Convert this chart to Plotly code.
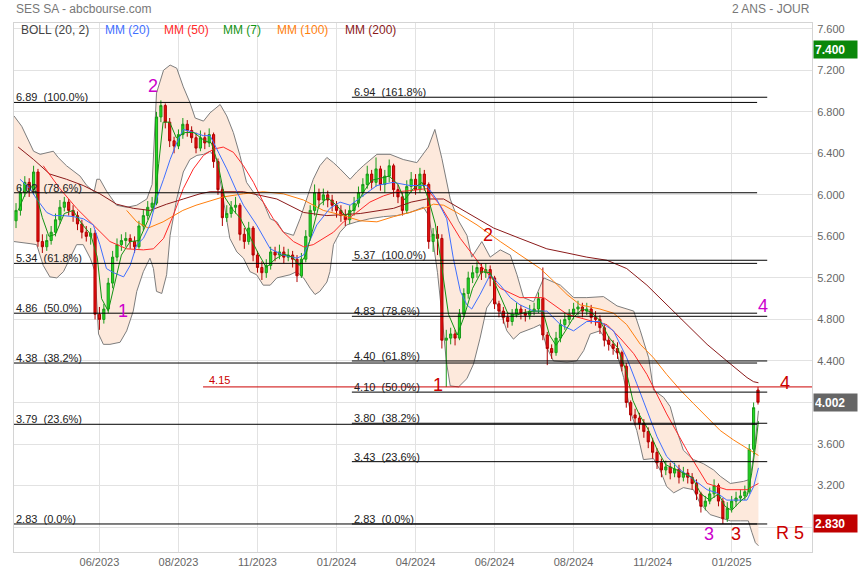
import plotly.graph_objects as go

FONT = "Liberation Sans, Arial, sans-serif"

# ---------------- data ----------------
tick_idx = [19, 37, 55, 73, 91, 109, 127, 145, 163]
tick_labels = ["06/2023", "08/2023", "11/2023", "01/2024", "04/2024",
               "06/2024", "08/2024", "11/2024", "01/2025"]
y_ticks = [2.8, 3.2, 3.6, 4.0, 4.4, 4.8, 5.2, 5.6, 6.0, 6.4, 6.8, 7.2, 7.6]
# 2.800 and 4.000 are hidden behind the price tags in the reference
y_tick_labels = ["", "3.200", "3.600", "", "4.400", "4.800", "5.200", "5.600",
                 "6.000", "6.400", "6.800", "7.200", "7.600"]

open_ = [5.75, 5.85, 6.02, 6.12, 6.05, 6.22, 5.55, 5.50, 5.56, 5.64,
         5.76, 5.88, 5.93, 5.85, 5.80, 5.72, 5.64, 5.60, 5.63, 4.85,
         4.80, 4.90, 5.15, 5.40, 5.52, 5.56, 5.58, 5.55, 5.50, 5.70,
         5.80, 5.88, 5.92, 6.75, 6.86, 6.70, 6.52, 6.47, 6.58, 6.68,
         6.62, 6.55, 6.45, 6.55, 6.50, 6.58, 6.32, 6.05, 5.78, 5.82,
         5.88, 5.90, 5.62, 5.55, 5.68, 5.42, 5.30, 5.25, 5.32, 5.45,
         5.42, 5.45, 5.40, 5.42, 5.38, 5.22, 5.38, 5.60, 5.85, 6.02,
         5.95, 6.00, 5.95, 5.90, 5.85, 5.80, 5.76, 5.85, 5.92, 6.02,
         6.10, 6.20, 6.12, 6.25, 6.10, 6.18, 6.28, 6.05, 5.98, 5.85,
         6.08, 6.15, 6.05, 6.20, 6.10, 5.55, 5.62, 5.58, 4.60, 4.62,
         4.66, 4.62, 4.85, 5.05, 5.20, 5.25, 5.30, 5.25, 5.28, 5.20,
         4.95, 4.88, 4.82, 4.78, 4.85, 4.90, 4.86, 4.84, 4.88, 4.90,
         5.00, 4.65, 4.52, 4.48, 4.62, 4.75, 4.80, 4.85, 4.90, 4.92,
         4.88, 4.90, 4.82, 4.80, 4.72, 4.60, 4.56, 4.52, 4.48, 4.35,
         4.00, 3.88, 3.85, 3.80, 3.72, 3.62, 3.52, 3.42, 3.35, 3.38,
         3.32, 3.36, 3.28, 3.32, 3.28, 3.22, 3.12, 3.00, 3.05, 3.12,
         3.20, 3.05, 2.88, 2.98, 3.05, 3.08, 3.10, 3.14, 3.55, 4.12]

close = [5.85, 6.02, 6.12, 6.05, 6.22, 5.55, 5.50, 5.56, 5.64, 5.76,
         5.88, 5.93, 5.85, 5.80, 5.72, 5.64, 5.60, 5.63, 4.85, 4.80,
         4.90, 5.15, 5.40, 5.52, 5.56, 5.58, 5.55, 5.50, 5.70, 5.80,
         5.88, 5.92, 6.75, 6.86, 6.70, 6.52, 6.47, 6.58, 6.68, 6.62,
         6.55, 6.45, 6.55, 6.50, 6.58, 6.32, 6.05, 5.78, 5.82, 5.88,
         5.90, 5.62, 5.55, 5.68, 5.42, 5.30, 5.25, 5.32, 5.45, 5.42,
         5.45, 5.40, 5.42, 5.38, 5.22, 5.38, 5.60, 5.85, 6.02, 5.95,
         6.00, 5.95, 5.90, 5.85, 5.80, 5.76, 5.85, 5.92, 6.02, 6.10,
         6.20, 6.12, 6.25, 6.10, 6.18, 6.28, 6.05, 5.98, 5.85, 6.08,
         6.15, 6.05, 6.20, 6.10, 5.55, 5.62, 5.58, 4.60, 4.62, 4.66,
         4.62, 4.85, 5.05, 5.20, 5.25, 5.30, 5.25, 5.28, 5.20, 4.95,
         4.88, 4.82, 4.78, 4.85, 4.90, 4.86, 4.84, 4.88, 4.90, 5.00,
         4.65, 4.52, 4.48, 4.62, 4.75, 4.80, 4.85, 4.90, 4.92, 4.88,
         4.90, 4.82, 4.80, 4.72, 4.60, 4.56, 4.52, 4.48, 4.35, 4.00,
         3.88, 3.85, 3.80, 3.72, 3.62, 3.52, 3.42, 3.35, 3.38, 3.32,
         3.36, 3.28, 3.32, 3.28, 3.22, 3.12, 3.00, 3.05, 3.12, 3.20,
         3.05, 2.88, 2.98, 3.05, 3.08, 3.10, 3.14, 3.55, 3.95, 4.002]

high = [5.92, 6.08, 6.18, 6.16, 6.28, 6.25, 5.62, 5.62, 5.70, 5.82,
        5.95, 5.98, 5.96, 5.90, 5.84, 5.76, 5.70, 5.68, 5.66, 4.92,
        4.95, 5.20, 5.46, 5.58, 5.62, 5.64, 5.62, 5.60, 5.75, 5.86,
        5.94, 5.98, 6.80, 6.91, 6.88, 6.74, 6.56, 6.63, 6.74, 6.72,
        6.66, 6.60, 6.62, 6.60, 6.64, 6.60, 6.35, 6.08, 5.90, 5.94,
        5.98, 5.92, 5.68, 5.74, 5.70, 5.46, 5.36, 5.38, 5.50, 5.50,
        5.52, 5.50, 5.48, 5.46, 5.42, 5.44, 5.66, 5.90, 6.10, 6.06,
        6.06, 6.04, 6.00, 5.94, 5.90, 5.86, 5.90, 5.98, 6.08, 6.16,
        6.28, 6.24, 6.36, 6.28, 6.24, 6.34, 6.30, 6.10, 6.02, 6.14,
        6.22, 6.20, 6.26, 6.24, 6.12, 5.68, 5.70, 5.62, 4.70, 4.72,
        4.70, 4.90, 5.10, 5.26, 5.32, 5.36, 5.34, 5.34, 5.32, 5.22,
        4.98, 4.92, 4.86, 4.90, 4.96, 4.94, 4.90, 4.94, 4.96, 5.06,
        5.30, 4.68, 4.56, 4.68, 4.80, 4.86, 4.90, 4.96, 4.98, 4.96,
        4.96, 4.94, 4.88, 4.84, 4.76, 4.64, 4.60, 4.58, 4.50, 4.38,
        4.02, 3.94, 3.90, 3.84, 3.76, 3.66, 3.56, 3.46, 3.44, 3.42,
        3.42, 3.40, 3.38, 3.36, 3.32, 3.26, 3.14, 3.10, 3.18, 3.26,
        3.22, 3.08, 3.04, 3.10, 3.14, 3.16, 3.20, 3.60, 4.00, 4.15]

low = [5.68, 5.80, 5.98, 5.98, 6.00, 5.50, 5.44, 5.46, 5.52, 5.60,
       5.72, 5.84, 5.80, 5.74, 5.66, 5.58, 5.55, 5.52, 4.80, 4.70,
       4.76, 4.86, 5.10, 5.36, 5.46, 5.50, 5.48, 5.44, 5.48, 5.66,
       5.76, 5.84, 5.90, 6.70, 6.64, 6.46, 6.40, 6.44, 6.54, 6.56,
       6.50, 6.40, 6.42, 6.44, 6.46, 6.26, 6.00, 5.70, 5.74, 5.78,
       5.82, 5.56, 5.48, 5.52, 5.36, 5.25, 5.18, 5.20, 5.28, 5.36,
       5.38, 5.34, 5.36, 5.30, 5.16, 5.20, 5.35, 5.56, 5.80, 5.88,
       5.90, 5.88, 5.84, 5.78, 5.74, 5.70, 5.72, 5.80, 5.88, 5.98,
       6.06, 6.06, 6.08, 6.04, 6.02, 6.12, 5.98, 5.92, 5.80, 5.82,
       6.02, 6.00, 6.02, 6.04, 5.48, 5.45, 5.42, 4.52, 4.15, 4.56,
       4.55, 4.60, 4.82, 5.00, 5.15, 5.20, 5.18, 5.20, 5.12, 4.90,
       4.82, 4.76, 4.72, 4.74, 4.82, 4.80, 4.78, 4.80, 4.84, 4.86,
       4.60, 4.36, 4.42, 4.45, 4.58, 4.70, 4.76, 4.80, 4.84, 4.82,
       4.84, 4.76, 4.74, 4.66, 4.54, 4.50, 4.46, 4.42, 4.30, 3.95,
       3.82, 3.78, 3.74, 3.66, 3.56, 3.46, 3.36, 3.28, 3.30, 3.26,
       3.28, 3.22, 3.24, 3.22, 3.16, 3.06, 2.94, 2.96, 3.02, 3.08,
       3.00, 2.83, 2.85, 2.94, 3.00, 3.04, 3.06, 3.12, 3.50, 3.98]

# Bollinger (20, 2) envelope, read at sample points
bb_up_idx = [-0.46, 1.3, 4.0, 5.5, 8.5, 9.6, 11.5, 14.6, 16.1, 17.8, 18.4, 19.1, 20.7, 22.9,
             25.2, 27.5, 29.8, 31.0, 32.0, 33.6, 35.1, 36.6, 38.1, 39.6, 40.8, 42.7, 44.2,
             46.5, 48.0, 49.5, 51.0, 52.5, 54.0, 56.3, 57.9, 59.4, 60.9, 63.2, 64.7, 66.2,
             67.7, 69.2, 70.8, 72.3, 73.8, 76.1, 77.6, 79.1, 82.2, 85.2, 88.2, 91.3, 93.9,
             95.4, 97.0, 98.9, 100.8, 102.7, 103.8, 106.1, 108.0, 110.3, 112.6, 114.1,
             115.6, 117.9, 120.2, 124.0, 127.0, 130.0, 133.8, 136.9, 140.7, 142.2, 144.1,
             145.2, 147.5, 149.0, 150.5, 152.0, 154.3, 156.6, 158.9, 160.4, 162.7, 165.7,
             167.2, 168.2, 169.1]
bb_up = [6.76, 6.66, 6.42, 6.39, 6.42, 6.36, 6.28, 6.18, 6.09, 6.03, 6.15, 6.15, 6.03, 5.90,
         5.88, 5.90, 5.96, 6.10, 6.98, 7.20, 7.25, 7.22, 7.04, 6.89, 6.74, 6.71, 6.79,
         6.87, 6.76, 6.60, 6.38, 6.12, 6.03, 5.93, 5.77, 5.74, 5.64, 5.61, 5.77, 5.96,
         6.15, 6.28, 6.36, 6.31, 6.25, 6.15, 6.22, 6.28, 6.39, 6.39, 6.34, 6.31, 6.46,
         6.63, 6.35, 5.96, 5.75, 5.61, 5.40, 5.55, 5.40, 5.47, 5.42, 5.23,
         5.01, 4.97, 5.20, 5.13, 5.01, 5.01, 5.02, 4.93, 4.88, 4.69, 4.43,
         4.12, 4.05, 3.96, 3.73, 3.54, 3.45, 3.41, 3.35, 3.29, 3.22, 3.24,
         3.26, 3.55, 3.92]
bb_lo_idx = [-0.46, 3.2, 4.7, 6.2, 7.7, 9.3, 10.8, 12.3, 13.8, 15.3, 16.9, 18.0, 18.8, 19.9,
             21.4, 23.7, 25.2, 26.7, 27.5, 29.0, 30.5, 31.3, 32.0, 33.2, 34.3, 35.1, 36.6,
             38.1, 39.6, 41.2, 42.7, 44.2, 45.7, 47.2, 48.7, 50.3, 51.8, 53.3, 54.8, 56.3,
             57.9, 59.4, 62.4, 63.9, 65.5, 67.0, 68.1, 69.2, 70.8, 71.5, 72.3, 73.8, 75.3,
             77.6, 80.6, 83.7, 86.7, 89.7, 92.8, 94.0, 95.0, 96.0, 97.0, 98.0, 98.9, 100.8,
             102.7, 104.2, 105.7, 107.2, 108.8, 110.3, 111.8, 113.3, 114.8, 117.9, 119.4,
             120.9, 122.4, 125.5, 127.7, 129.3, 130.8, 133.0, 134.6, 136.9, 138.4, 139.9,
             141.4, 142.9, 145.2, 146.7, 148.2, 149.8, 152.0, 154.3, 155.8, 158.1, 160.4,
             162.7, 165.0, 166.8, 167.6, 168.4, 169.1]
bb_lo = [5.55, 5.53, 5.52, 5.32, 5.21, 5.20, 5.26, 5.39, 5.52, 5.52, 5.39, 5.26, 4.66, 4.56,
         4.56, 4.58, 4.69, 4.88, 5.07, 5.26, 5.39, 5.29, 5.07, 5.05, 5.23, 5.61, 5.96,
         6.22, 6.34, 6.38, 6.39, 6.42, 6.34, 5.96, 5.58, 5.45, 5.39, 5.26, 5.23, 5.13,
         5.13, 5.20, 5.23, 5.26, 5.20, 5.10, 5.04, 5.07, 5.16, 5.26, 5.52, 5.64, 5.71,
         5.74, 5.77, 5.79, 5.80, 5.83, 5.88, 5.80, 5.55, 5.25, 4.85, 4.40, 4.16, 4.15,
         4.23, 4.37, 4.62, 4.91, 5.01, 4.88, 4.69, 4.61, 4.67, 4.72, 4.75,
         4.53, 4.40, 4.39, 4.40, 4.50, 4.66, 4.69, 4.59, 4.47, 4.24, 3.92,
         3.73, 3.45, 3.46, 3.35, 3.19, 3.13, 3.18, 3.16, 3.03, 2.92, 2.89,
         2.86, 2.86, 2.86, 2.75, 2.65, 2.62]

ma7_idx = [0.5, 2, 4, 5, 6, 7.5, 9, 11, 13, 15, 17, 18.5, 19.5, 21, 22.5, 24, 26, 28, 30,
           31.5, 32.5, 33.5, 35, 36.5, 38.5, 40.5, 43, 44.5, 46, 47.5, 49.5, 51, 53, 55,
           57, 59, 61, 63, 64.5, 66, 67.5, 69, 71, 73, 75, 77, 79, 81, 83, 85, 87, 88.5,
           90.5, 92.5, 94, 95.5, 97, 98.5, 100.5, 102, 104, 106, 108, 110, 112, 114, 116,
           118, 120, 121.5, 123, 125, 127, 129, 131, 133, 135, 137, 139, 140.5, 142, 144,
           146, 148, 150, 152, 154, 156, 158, 160, 161.5, 163, 165, 166.5, 167.5, 168.5,
           169.1]
ma7 = [5.85, 6.00, 6.10, 5.95, 5.78, 5.60, 5.62, 5.82, 5.85, 5.72, 5.62, 5.40, 5.00, 4.88,
       5.15, 5.42, 5.55, 5.56, 5.75, 5.90, 6.30, 6.70, 6.70, 6.55, 6.60, 6.60, 6.52, 6.50,
       6.30, 5.98, 5.85, 5.78, 5.62, 5.45, 5.30, 5.38, 5.43, 5.40, 5.32, 5.42, 5.65, 5.90,
       5.97, 5.90, 5.80, 5.86, 6.02, 6.14, 6.16, 6.18, 6.10, 5.95, 6.06, 6.12, 5.95, 5.72,
       5.30, 4.85, 4.65, 4.82, 5.10, 5.26, 5.25, 5.05, 4.86, 4.84, 4.87, 4.88, 4.88, 4.65,
       4.55, 4.68, 4.82, 4.90, 4.87, 4.79, 4.63, 4.53, 4.30, 4.02, 3.88, 3.74, 3.55, 3.40,
       3.36, 3.32, 3.28, 3.12, 3.06, 3.12, 3.00, 2.96, 3.05, 3.10, 3.30, 3.60, 3.82]

ma20_idx = [0.9, 3.2, 4.7, 7.0, 8.5, 10.8, 13.1, 15.3, 17.6, 19.1, 20.6, 22.2, 24.5, 26.0,
            27.5, 29.0, 30.5, 32.0, 33.6, 35.1, 36.6, 38.1, 40.4, 42.7, 44.2, 45.7, 48.0,
            50.3, 51.8, 54.8, 57.9, 60.9, 64.0, 65.5, 68.5, 71.5, 73.8, 76.1, 79.1, 82.2,
            85.9, 89.7, 93.5, 95.9, 98.1, 99.6, 101.2, 102.7, 103.8, 105.7, 108.0, 110.3,
            112.6, 114.8, 117.9, 120.9, 124.0, 127.0, 130.0, 133.0, 136.1, 139.1, 141.4,
            143.7, 146.0, 148.2, 151.3, 154.3, 157.4, 159.6, 161.9, 164.2, 166.5, 168.0,
            169.1]
ma20 = [6.15, 6.06, 5.96, 5.83, 5.80, 5.80, 5.79, 5.77, 5.71, 5.52, 5.29, 5.25, 5.21, 5.32,
        5.52, 5.58, 5.71, 5.96, 6.15, 6.34, 6.50, 6.63, 6.60, 6.57, 6.57, 6.44, 6.25,
        6.03, 5.90, 5.71, 5.48, 5.42, 5.39, 5.42, 5.71, 5.87, 5.93, 5.90, 5.99, 6.09,
        6.12, 6.09, 6.09, 5.95, 5.77, 5.39, 5.07, 4.94, 4.90, 5.04, 5.23, 5.13,
        5.01, 4.94, 4.88, 4.88, 4.75, 4.69, 4.78, 4.78, 4.69, 4.43, 4.18,
        3.92, 3.67, 3.48, 3.35, 3.26, 3.16, 3.13, 3.06, 3.06, 3.06, 3.19,
        3.37]

ma50_idx = [6.2, 10.0, 13.8, 17.6, 21.4, 25.2, 29.0, 31.3, 33.6, 35.8, 38.1, 40.4, 42.7,
            45.0, 47.2, 49.5, 51.8, 54.1, 56.3, 58.6, 60.9, 63.2, 65.5, 67.7, 70.0, 72.3,
            74.6, 77.6, 80.6, 83.7, 86.7, 89.7, 93.5, 96.6, 101.2, 105.7, 110.3, 114.8,
            120.2, 125.5, 131.5, 134.6, 137.6, 140.7, 143.7, 148.2, 152.8, 157.4, 161.9,
            166.5, 169.1]
ma50 = [6.28, 6.06, 5.87, 5.71, 5.55, 5.48, 5.47, 5.48, 5.58, 5.80, 6.06, 6.25, 6.38,
        6.44, 6.46, 6.41, 6.28, 6.12, 5.93, 5.77, 5.64, 5.55, 5.50, 5.52, 5.58, 5.64,
        5.74, 5.83, 5.93, 5.99, 6.03, 6.04, 6.06, 5.90, 5.58, 5.33, 5.10, 5.01,
        5.01, 4.85, 4.78, 4.75, 4.62, 4.47, 4.27, 3.89, 3.54, 3.22, 3.16,
        3.16, 3.22]

ma100_idx = [25.2, 27.5, 30.1, 33.5, 38.0, 41.0, 47.2, 51.8, 56.3, 60.9, 65.5, 70.0, 74.6,
             78.4, 82.2, 86.0, 89.7, 93.5, 95.1, 97.4, 100.4, 105.0, 110.3, 114.8, 119.4,
             122.4, 125.5, 128.5, 133.0, 136.1, 139.1, 142.2, 145.2, 148.2, 151.3, 154.3,
             157.4, 160.4, 163.4, 166.5, 169.1]
ma100 = [5.85, 5.74, 5.68, 5.74, 5.85, 5.90, 5.98, 6.01, 6.03, 6.01, 5.95, 5.85, 5.80,
         5.75, 5.74, 5.79, 5.83, 5.88, 5.91, 5.90, 5.83, 5.71, 5.55, 5.42, 5.29,
         5.17, 5.04, 4.94, 4.90, 4.86, 4.75, 4.56, 4.43, 4.27, 4.12, 3.99,
         3.86, 3.73, 3.64, 3.56, 3.49]

ma200_idx = [0.5, 4.0, 7.7, 11.5, 15.3, 19.1, 22.9, 26.7, 30.5, 34.3, 38.1, 41.9, 44.2,
             51.8, 59.4, 65.5, 70.8, 78.4, 86.0, 90.0, 93.5, 97.4, 102.7, 108.8, 114.8,
             120.9, 125.5, 130.0, 134.6, 139.1, 143.7, 148.2, 152.8, 157.4, 161.9, 166.5,
             168.0, 169.1]
ma200 = [6.46, 6.34, 6.20, 6.15, 6.09, 6.01, 5.91, 5.87, 5.85, 5.91, 5.96, 6.01, 6.03,
         6.03, 5.96, 5.83, 5.80, 5.82, 5.87, 5.93, 5.96, 5.96, 5.83, 5.68, 5.58,
         5.48, 5.44, 5.40, 5.37, 5.29, 5.13, 4.94, 4.75, 4.56, 4.40, 4.24,
         4.20, 4.19]

fib_left_vals = [6.89, 6.02, 5.34, 4.86, 4.38, 3.79, 2.83]
fib_left_pct = ["100.0%", "78.6%", "61.8%", "50.0%", "38.2%", "23.6%", "0.0%"]
fib_right_vals = [6.94, 5.37, 4.83, 4.40, 4.10, 3.80, 3.43, 2.83]
fib_right_pct = ["161.8%", "100.0%", "78.6%", "61.8%", "50.0%", "38.2%", "23.6%", "0.0%"]
resistance = 4.15

last_price = 4.002
target_high = 7.400
support_low = 2.830

# ---------------- layout constants ----------------
X_MIN, X_MAX = -0.46, 181.3
Y_MIN, Y_MAX = 2.56, 7.655
FIB_L_X0, FIB_L_X1 = X_MIN, 168.8
FIB_R_X0, FIB_R_X1 = 76.5, 171.1
RES_X0 = 42.6

C_BOLL = "#444444"
C_MA20 = "#3f6fff"
C_MA50 = "#ff2a2a"
C_MA7 = "#149414"
C_MA100 = "#ff7f0e"
C_MA200 = "#8b1a1a"
MAGENTA = "#cc00cc"
DRED = "#cc0000"


def svg_path(xs, ys, close_it=False):
    pts = " L ".join(f"{x},{y}" for x, y in zip(xs, ys))
    return "M " + pts + (" Z" if close_it else "")


fig = go.Figure()

shapes = []
annotations = []

# Bollinger envelope drawn between grid and data so candles sit on top
shapes.append(dict(type="path", xref="x", yref="y", layer="between",
                   path=svg_path(bb_up_idx + bb_lo_idx[::-1], bb_up + bb_lo[::-1], True),
                   fillcolor="#fde9dc", line=dict(width=0)))
for xs, ys in ((bb_up_idx, bb_up), (bb_lo_idx, bb_lo)):
    shapes.append(dict(type="path", xref="x", yref="y", layer="between",
                       path=svg_path(xs, ys), line=dict(color="#7d7d7d", width=1)))

# candles
fig.add_trace(go.Candlestick(
    x=list(range(len(close))), open=open_, high=high, low=low, close=close,
    increasing=dict(line=dict(color="#1a9a1a", width=1), fillcolor="#22dd22"),
    decreasing=dict(line=dict(color="#b00000", width=1), fillcolor="#e81010"),
    whiskerwidth=0, hoverinfo="skip"))

# moving averages
for xs, ys, col in ((ma200_idx, ma200, C_MA200), (ma100_idx, ma100, C_MA100),
                    (ma50_idx, ma50, C_MA50), (ma20_idx, ma20, C_MA20),
                    (ma7_idx, ma7, C_MA7)):
    fig.add_trace(go.Scatter(x=xs, y=ys, mode="lines",
                             line=dict(color=col, width=1), hoverinfo="skip"))


def fib_label(x, y, txt):
    annotations.append(dict(x=x, y=y, xref="x", yref="y", text=txt, showarrow=False,
                            xanchor="left", yanchor="bottom", yshift=-3,
                            font=dict(family=FONT, size=11, color="#222222")))


for v, p in zip(fib_left_vals, fib_left_pct):
    shapes.append(dict(type="line", xref="x", yref="y", x0=FIB_L_X0, x1=FIB_L_X1,
                       y0=v, y1=v, line=dict(color="black", width=1)))
    fib_label(FIB_L_X0, v, f"{v:.2f}\u00a0\u00a0({p})")
for v, p in zip(fib_right_vals, fib_right_pct):
    shapes.append(dict(type="line", xref="x", yref="y", x0=FIB_R_X0, x1=FIB_R_X1,
                       y0=v, y1=v, line=dict(color="black", width=1)))
    fib_label(FIB_R_X0, v, f"{v:.2f}\u00a0\u00a0({p})")

shapes.append(dict(type="line", xref="x", yref="y", x0=RES_X0, x1=X_MAX,
                   y0=resistance, y1=resistance, line=dict(color=DRED, width=1)))
annotations.append(dict(x=RES_X0 + 1, y=resistance, xref="x", yref="y",
                        text=f"{resistance:.2f}", showarrow=False, xanchor="left",
                        yanchor="bottom", yshift=-1,
                        font=dict(family=FONT, size=11, color=DRED)))

# wave labels
waves = [("1", 24.4, 4.88, MAGENTA), ("2", 31.1, 7.05, MAGENTA),
         ("1", 96.2, 4.17, DRED), ("2", 107.4, 5.61, DRED),
         ("3", 157.9, 2.73, MAGENTA), ("3", 164.0, 2.73, DRED),
         ("4", 170.2, 4.93, MAGENTA), ("4", 175.2, 4.19, DRED),
         ("R 5", 176.3, 2.74, DRED)]
for t, x, y, c in waves:
    annotations.append(dict(x=x, y=y, xref="x", yref="y", text=t, showarrow=False,
                            font=dict(family=FONT, size=18, color=c)))

# price tags on the right axis
for val, bg in ((target_high, "#0a870a"), (last_price, "#666666"), (support_low, "#c00000")):
    annotations.append(dict(x=1, y=val, xref="paper", yref="y", text=f"<b>{val:.3f}</b>",
                            showarrow=False, xanchor="left", yanchor="middle", xshift=1,
                            bgcolor=bg, width=41, height=15, align="left", borderpad=1,
                            font=dict(family=FONT, size=12, color="white")))

# header texts
annotations.append(dict(x=0, y=1, xref="paper", yref="paper", text="SES SA - abcbourse.com",
                        showarrow=False, xanchor="left", yanchor="middle", yshift=14,
                        font=dict(family=FONT, size=12, color="#777777")))
annotations.append(dict(x=1, y=1, xref="paper", yref="paper", text="2 ANS - JOUR",
                        showarrow=False, xanchor="right", yanchor="middle", yshift=14,
                        font=dict(family=FONT, size=12, color="#777777")))

legend_items = [("BOLL (20, 2)", C_BOLL, 0.006), ("MM (20)", C_MA20, 0.111),
                ("MM (50)", C_MA50, 0.186), ("MM (7)", C_MA7, 0.260),
                ("MM (100)", C_MA100, 0.327), ("MM (200)", C_MA200, 0.412)]
for t, c, xp in legend_items:
    annotations.append(dict(x=xp, y=1, xref="paper", yref="paper", text=t, showarrow=False,
                            xanchor="left", yanchor="middle", yshift=-7,
                            font=dict(family=FONT, size=12, color=c)))

fig.update_layout(
    width=860, height=580,
    margin=dict(l=14, r=48, t=23, b=24),
    paper_bgcolor="white", plot_bgcolor="white",
    showlegend=False, hovermode=False,
    shapes=shapes, annotations=annotations,
    xaxis=dict(range=[X_MIN, X_MAX], tickvals=tick_idx, ticktext=tick_labels,
               showgrid=True, gridcolor="#e2e2e2", gridwidth=1, zeroline=False,
               showline=True, linecolor="#d4d4d4", mirror=True, ticks="",
               tickfont=dict(family=FONT, size=11, color="#666666"),
               rangeslider=dict(visible=False), fixedrange=True),
    yaxis=dict(side="right", range=[Y_MIN, Y_MAX], tickvals=y_ticks, ticktext=y_tick_labels,
               showgrid=True, gridcolor="#e2e2e2", gridwidth=1, zeroline=False,
               showline=True, linecolor="#d4d4d4", mirror=True, ticks="",
               ticklabelstandoff=2,
               tickfont=dict(family=FONT, size=11, color="#666666"), fixedrange=True),
)

fig.write_html("out.html", config={"displayModeBar": False},
               post_script="document.body.style.margin='0px';document.body.style.overflow='hidden';")
